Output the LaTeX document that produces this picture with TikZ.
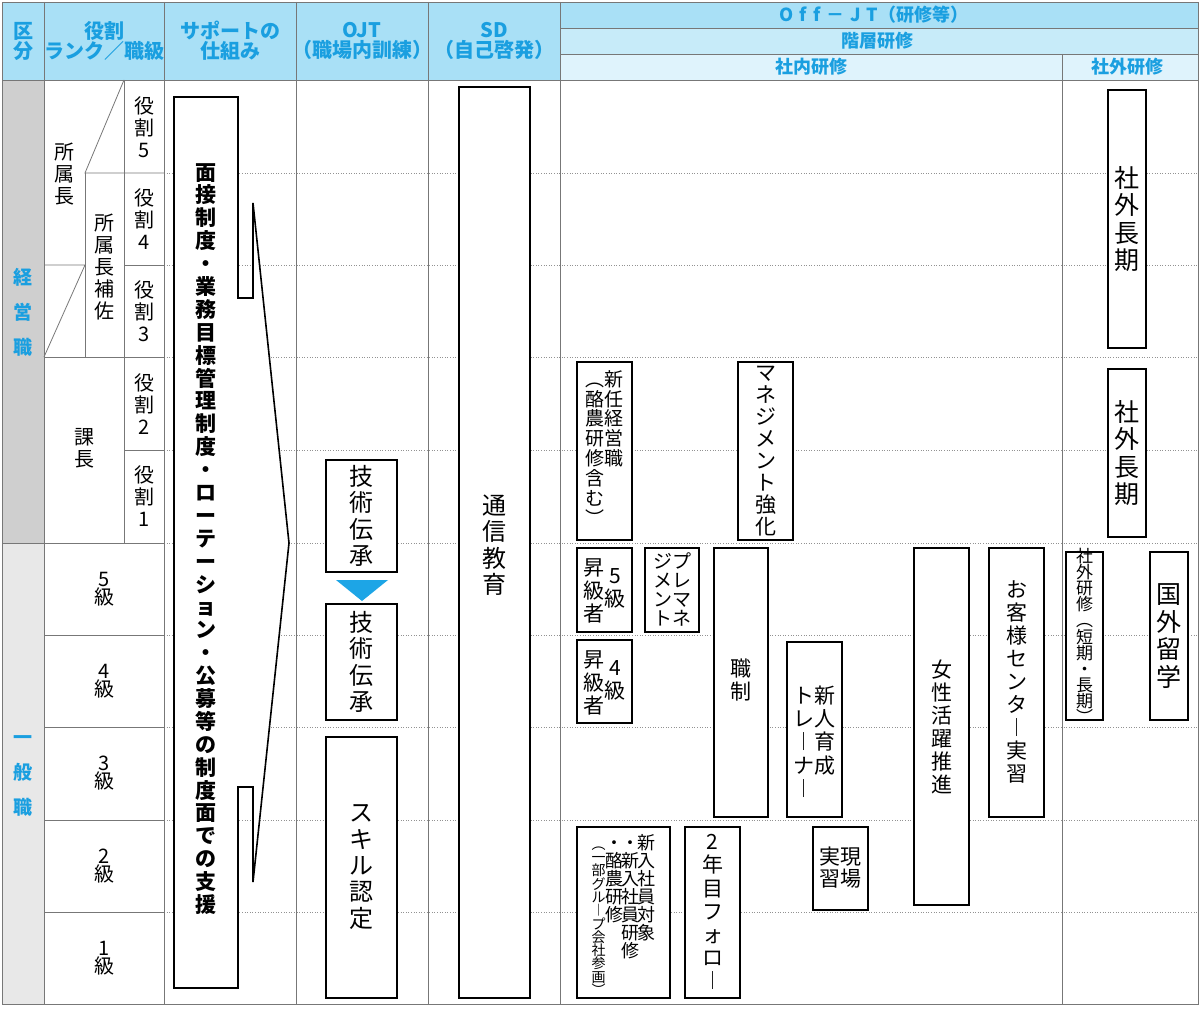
\documentclass[tikz,border=0pt]{standalone}
\usepackage{fontspec}
\setmainfont{Noto Sans CJK JP}
\definecolor{hd1}{HTML}{A9E0F6}
\definecolor{hd2}{HTML}{C7EBF9}
\definecolor{hd3}{HTML}{DFF3FC}
\definecolor{bl}{HTML}{1A9FE0}
\definecolor{g1}{HTML}{CFCFCF}
\definecolor{g2}{HTML}{E8E8E8}
\definecolor{ln}{HTML}{777777}
\definecolor{tri}{HTML}{1DA5E6}
\def\vtend{}
\def\vtls{1.1em}
\def\vtA#1{\ifx#1\vtend\else\hbox to 1em{\hss#1\hss}\expandafter\vtA\fi}
\newcommand\vs[1]{\vtop{\baselineskip=\vtls\lineskiplimit=-100pt\vtA#1\vtend}}
\tikzset{
 box/.style={draw=black,line width=2.2pt,fill=white},
 hdt/.style={text=bl,font=\fontsize{20}{22}\selectfont\bfseries,align=center},
 rk/.style={font=\fontsize{20}{22}\selectfont,align=center,inner sep=0pt},
 bt/.style={font=\fontsize{24}{26}\selectfont,inner sep=0pt},
 bs/.style={font=\fontsize{21}{23}\selectfont,inner sep=0pt},
 grid/.style={draw=ln,line width=0.8pt},
 dot/.style={draw=ln!80,line width=0.6pt,dotted},
}
\begin{document}
\begin{tikzpicture}[x=1pt,y=-1pt]
\useasboundingbox (0,0) rectangle (1200,1011);
\fill[white] (0,0) rectangle (1200,1011);
% header fills
\fill[hd1] (2,2) rectangle (560,80);
\fill[hd1] (560,2) rectangle (1198,28);
\fill[hd2] (560,28) rectangle (1198,54);
\fill[hd3] (560,54) rectangle (1198,80);
% category fills
\fill[g1] (2,80) rectangle (44,543);
\fill[g2] (2,543) rectangle (44,1004);
% dotted row lines
\foreach \y in {173,265,357,450,543,635,727,820,912}
  \draw[dot] (164,\y) -- (1198,\y);
% rank grid
\draw[grid] (124,80) -- (124,543);
\draw[grid] (85,173) -- (85,357);
\draw[grid] (124,80) -- (85,173) -- (164,173);
\draw[grid] (44,265) -- (85,265) -- (44,357);
\draw[grid] (44,357) -- (164,357);
\draw[grid] (124,265) -- (164,265);
\draw[grid] (124,450) -- (164,450);
\draw[grid] (2,543) -- (164,543);
\foreach \y in {635,727,820,912} \draw[grid] (44,\y) -- (164,\y);
% main grid
\draw[grid] (2,2) rectangle (1198,1004);
\draw[grid] (2,80) -- (1198,80);
\draw[grid] (560,28) -- (1198,28);
\draw[grid] (560,54) -- (1198,54);
\foreach \x in {44,164,296,428,560} \draw[grid] (\x,2) -- (\x,1004);
\draw[grid] (1062,54) -- (1062,1004);
% header texts
\node[hdt] (h0) at (23,41) {区\\[-2pt]分};
\node[hdt] (h1) at (104,41) {役割\\[-2pt]ランク／職級};
\node[hdt] (h2) at (230,41) {サポートの\\[-2pt]仕組み};
\node[hdt] (h3) at (362,41) {OJT\\[-2pt]（職場内訓練）};
\node[hdt] (h4) at (494,41) {SD\\[-2pt]（自己啓発）};
\node[hdt,font=\fontsize{18}{20}\selectfont\bfseries] (h5) at (874,15) {O\,\,f\,\,f\,\,－\,\,J\,\,T（研修等）};
\node[hdt,font=\fontsize{18}{20}\selectfont\bfseries] (h6) at (877,41) {階層研修};
\node[hdt,font=\fontsize{18}{20}\selectfont\bfseries] (h7) at (811,67) {社内研修};
\node[hdt,font=\fontsize{18}{20}\selectfont\bfseries] (h8) at (1127,67) {社外研修};
% category
\node[hdt,font=\fontsize{19}{21}\selectfont\bfseries] (c1) at (23,312) {経\\[14pt]営\\[14pt]職};
\node[hdt,font=\fontsize{19}{21}\selectfont\bfseries] (c2) at (23,776) {一\\[14pt]般\\[14pt]職};
% rank texts
\node[rk,anchor=north] (r1) at (64,143) {\vs{所属長}};
\node[rk,anchor=north] (r2) at (104,214) {\vs{所属長補佐}};
\node[rk,anchor=north] (r3) at (84,428) {\vs{課長}};
\node[rk] (y5) at (144,127) {\vs{役割5}};
\node[rk] (y4) at (144,219) {\vs{役割4}};
\node[rk] (y3) at (144,311) {\vs{役割3}};
\node[rk] (y2) at (144,404) {\vs{役割2}};
\node[rk] (y1) at (144,496) {\vs{役割1}};
\foreach \n/\y in {5/589,4/681,3/773,2/866,1/958}
  \node[rk] (k\n) at (104,\y) {\n\\[-4pt]級};
% support arrow
\draw[line width=1.6pt,fill=white] (174,97) -- (238,97) -- (238,298) -- (253,298) -- (253,203) -- (289,543) -- (253,882) -- (253,787) -- (238,787) -- (238,988) -- (174,988) -- cycle;
\node[bt,anchor=north,font=\fontsize{21}{23}\selectfont\bfseries] (sup) at (206,163) {\def\vtls{1.09em}\vs{面接制度・業務目標管理制度・ローテーション・公募等の制度面での支援}};
% OJT
\draw[box] (326,460) rectangle (397,572);
\node[bt] (o1) at (361.5,516) {\vs{技術伝承}};
\fill[tri] (336,580) -- (388,580) -- (362,601) -- cycle;
\draw[box] (326,604) rectangle (397,720);
\node[bt] (o2) at (361.5,662) {\vs{技術伝承}};
\draw[box] (326,737) rectangle (397,998);
\node[bt] (o3) at (361.5,867) {\vs{スキル認定}};
% SD
\draw[box] (459,87) rectangle (530,998);
\node[bt] (sd) at (494.5,545) {\vs{通信教育}};
% off-JT boxes
\draw[box] (577,362) rectangle (632,540);
\node[bs,anchor=north,font=\fontsize{19}{21}\selectfont] (b1) at (604.5,370) {\def\vtls{1.05em}\hbox{\vs{︵酪農研修含む︶}\vs{新任経営職}}};
\draw[box] (738,362) rectangle (793,540);
\node[bs] (b2) at (765.5,451) {\def\vtls{1.05em}\vs{マネジメント強化}};
\draw[box] (1108,90) rectangle (1146,348);
\node[bt,font=\fontsize{25}{27}\selectfont] (b3) at (1127,219) {\vs{社外長期}};
\draw[box] (1108,369) rectangle (1146,537);
\node[bt,font=\fontsize{25}{27}\selectfont] (b4) at (1127,453) {\vs{社外長期}};
\draw[box] (577,548) rectangle (632,632);
\node[bs,anchor=north] (b5) at (604.5,558) {\hbox{\vs{昇級者}\raise-8pt\hbox{\vs{5級}}}};
\draw[box] (645,548) rectangle (699,632);
\node[bs,anchor=north,font=\fontsize{19}{21}\selectfont] (b6) at (672,553) {\def\vtls{1.0em}\hbox{\vs{ジメント}\vs{プレマネ}}};
\draw[box] (577,640) rectangle (632,723);
\node[bs,anchor=north] (b7) at (604.5,650) {\hbox{\vs{昇級者}\raise-8pt\hbox{\vs{4級}}}};
\draw[box] (714,548) rectangle (768,817);
\node[bs] (b8) at (741,680) {\vs{職制}};
\draw[box] (787,642) rectangle (842,817);
\node[bs,anchor=north] (b9) at (814.5,686) {\hbox{\vs{トレ︱ナ︱}\vs{新人育成}}};
\draw[box] (914,548) rectangle (969,905);
\node[bs] (b10) at (941.5,727) {\vs{女性活躍推進}};
\draw[box] (989,548) rectangle (1044,817);
\node[bs] (b11) at (1016.5,682) {\vs{お客様センタ︱実習}};
\draw[box] (1066,552) rectangle (1103,720);
\node[bs,font=\fontsize{17}{19}\selectfont] (b12) at (1084.5,636) {\def\vtls{0.95em}\vs{社外研修︵短期・長期︶}};
\draw[box] (1150,552) rectangle (1188,720);
\node[bt,font=\fontsize{25}{27}\selectfont] (b13) at (1169,636) {\vs{国外留学}};
\draw[box] (577,827) rectangle (670,998);
\node[bs,anchor=north] (b14) at (623.5,834) {\hbox{{\fontsize{14}{16}\selectfont\def\vtls{0.95em}\vs{︵一部グル︱プ会社参画︶}}{\fontsize{18}{20}\selectfont\def\vtls{1.0em}\vs{・酪農研修}\kern-2pt\vs{・新入社員研修}\kern-2pt\vs{新入社員対象}}}};
\draw[box] (685,827) rectangle (740,998);
\node[bs] (b15) at (712.5,912) {\vs{2年目フォロ︱}};
\draw[box] (813,827) rectangle (868,910);
\node[bs] (b16) at (840.5,868) {\def\vtls{1.05em}\hbox{\vs{実習}\vs{現場}}};
\end{tikzpicture}
\end{document}
